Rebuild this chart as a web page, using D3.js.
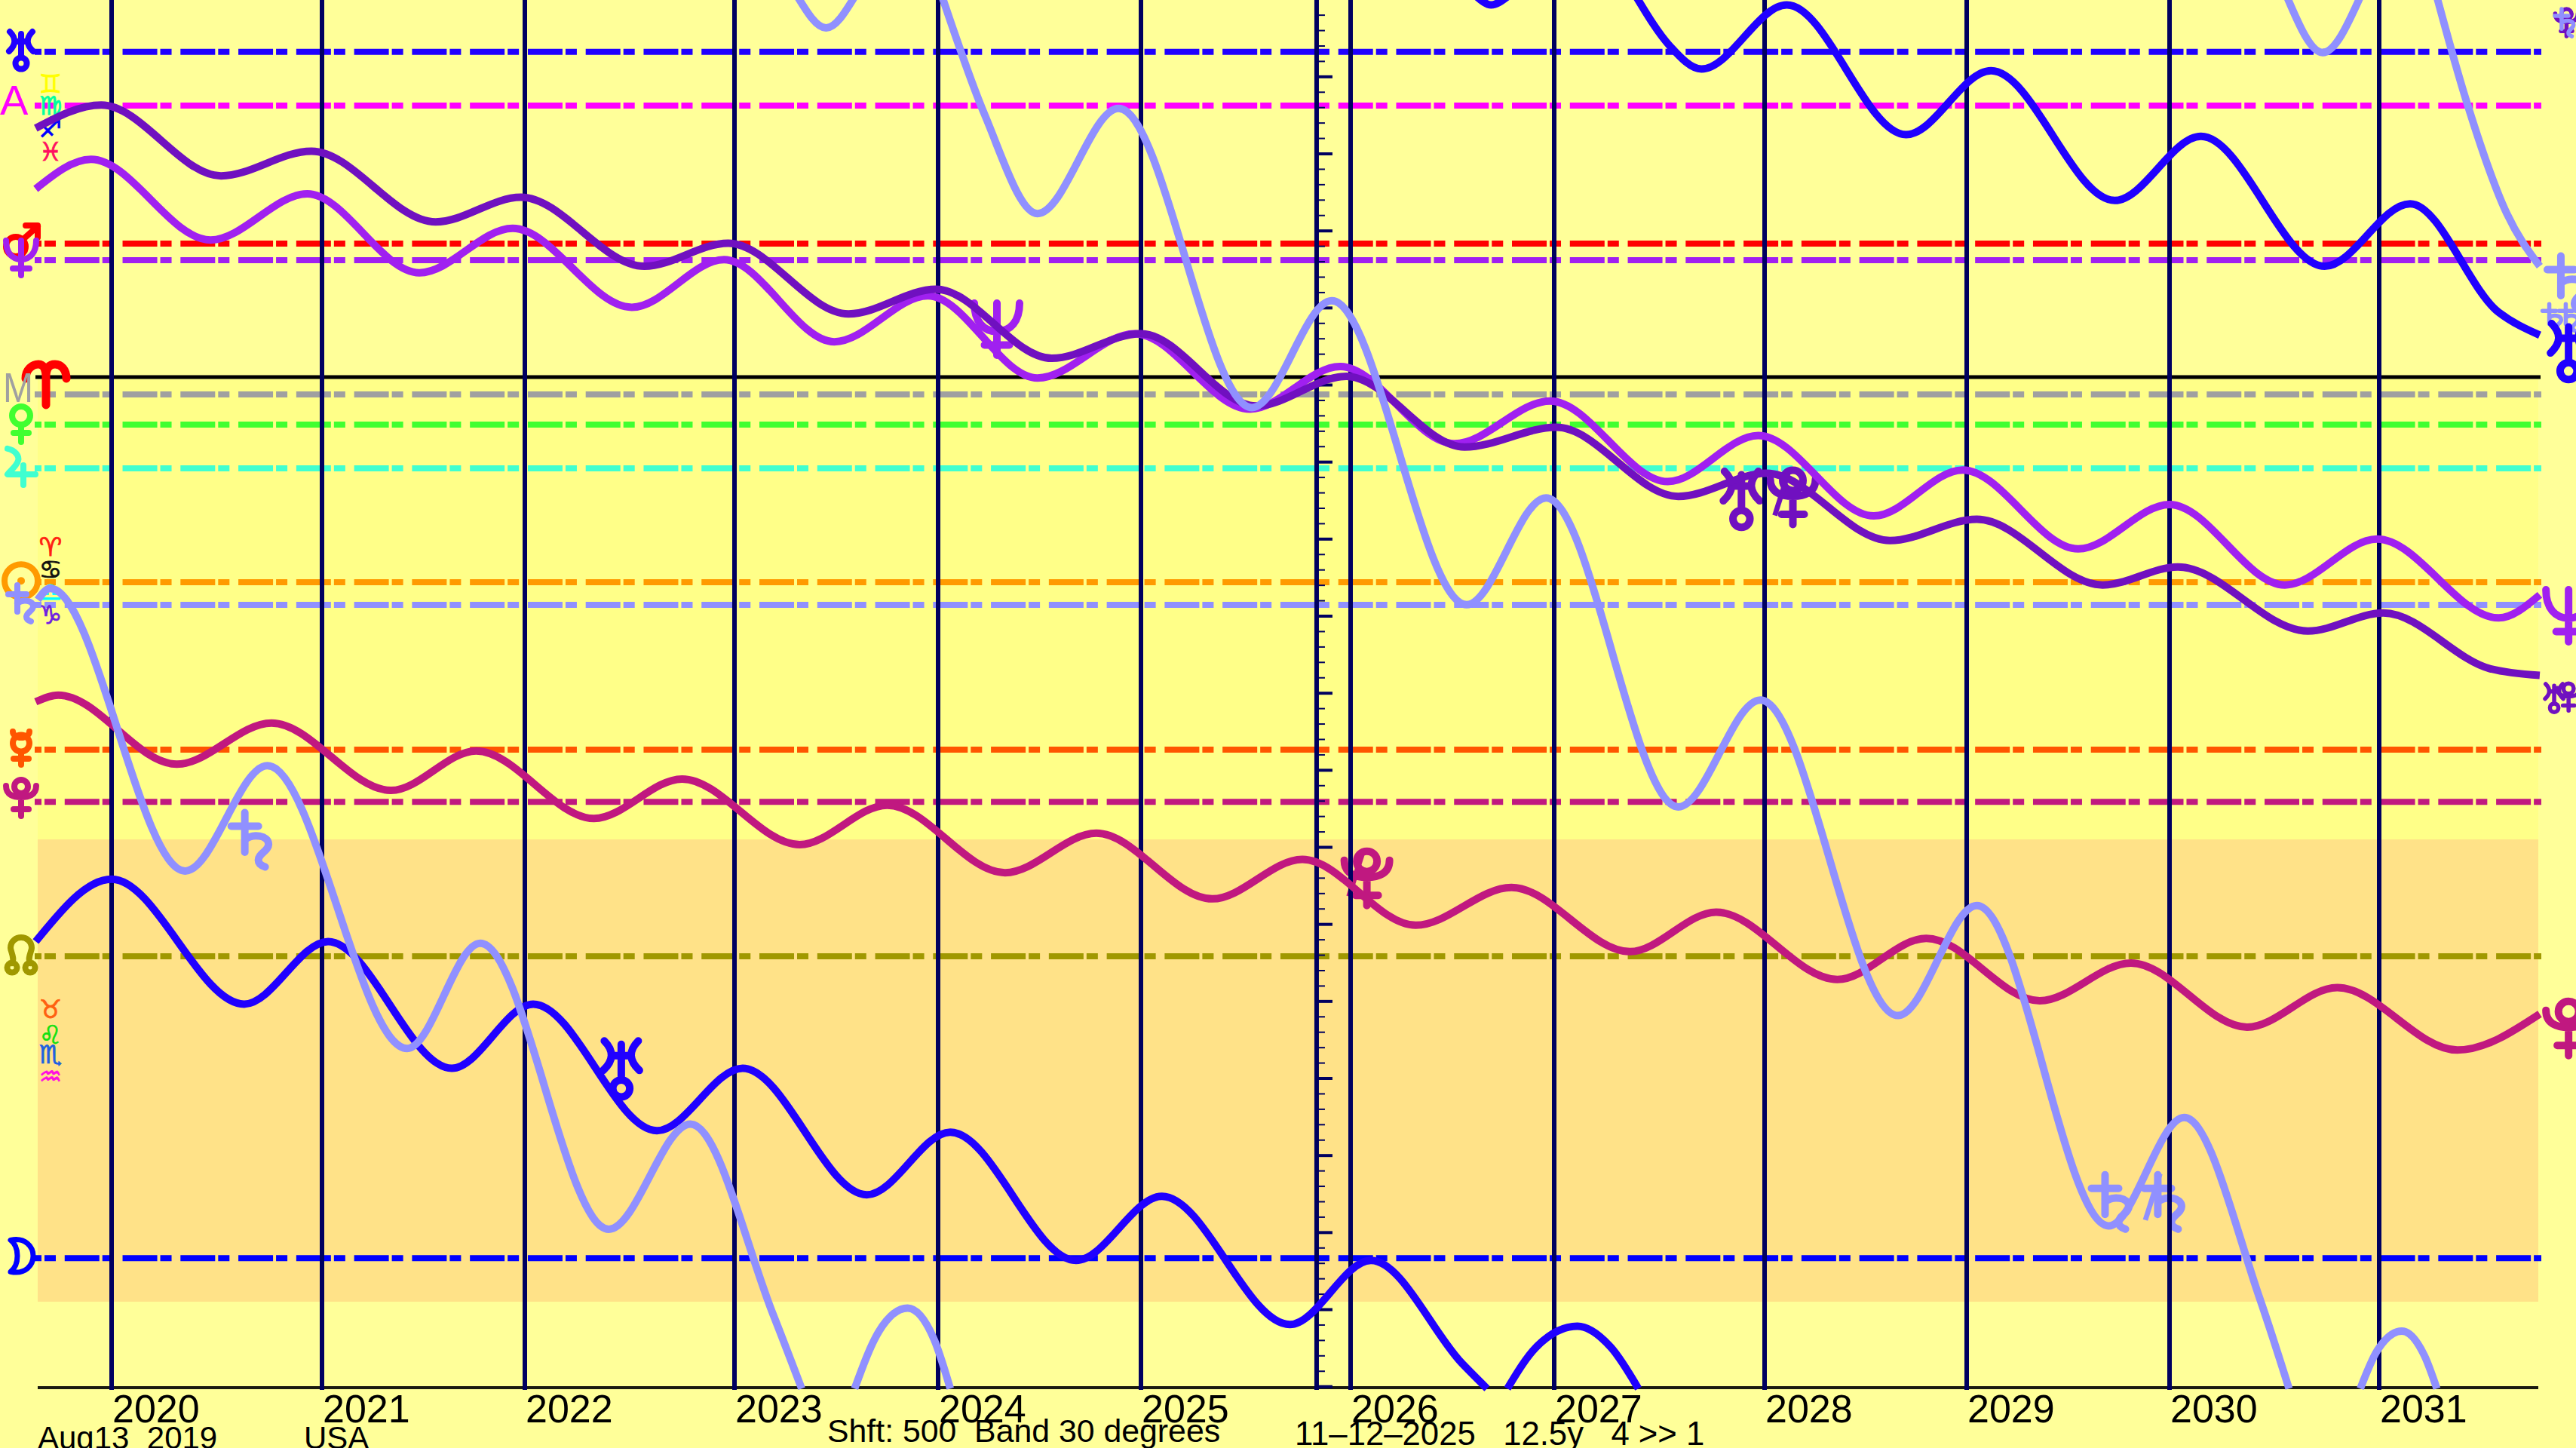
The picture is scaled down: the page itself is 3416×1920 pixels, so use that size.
<!DOCTYPE html>
<html><head><meta charset="utf-8">
<style>html,body{margin:0;padding:0;background:#FFFF99;overflow:hidden}svg{display:block}text{white-space:pre}</style>
<script src="https://cdnjs.cloudflare.com/ajax/libs/d3/7.8.5/d3.min.js"></script>
</head><body><svg id="c" width="3416" height="1920"></svg>
<script>
// years drawn on the time axis
const years=[2020,2021,2022,2023,2024,2025,2026,2027,2028,2029,2030,2031];
const nowYear=2025.838;
const footer=["Aug13  2019","USA","Shft: 500  Band 30 degrees","11–12–2025   12.5y   4 >> 1"];
// horizontal levels, degrees below 0 Aries
const levelNames=["Uranus","Asc","Mars","Neptune","MC","Venus","Jupiter","Sun","Saturn","Mercury","Pluto","Node","Moon"];
const levelDeg=[-21.10,-17.62,-8.66,-7.59,1.13,3.08,5.92,13.31,14.78,24.18,27.56,37.59,57.17];
const levelColor=["#2000FF","#FF00FF","#FF0000","#A020F0","#A0A0A0","#40FF30","#40FFD0","#FF9A00","#9090FF","#FF5500","#C01880","#A09800","#0000FF"];
// curves: turning points as [decimal year, degrees]; a curve that runs off the chart wraps to the other edge
const saturn=[
[[2019.64,14.45],[2019.70,13.71],[2020.35,32.05],[2020.74,25.22],[2021.42,43.57],[2021.78,36.74],[2022.40,55.30],[2022.79,48.47],[2023.19,60.84],[2023.33,65.64]],
[[2023.59,65.64],[2023.71,61.91],[2023.85,60.42],[2023.98,62.44],[2024.06,65.64]],
[[2023.31,-24.68],[2023.45,-22.66],[2023.59,-24.68]],
[[2024.02,-24.68],[2024.23,-17.01],[2024.49,-10.61],[2024.89,-17.43],[2025.53,1.98],[2025.91,-4.95],[2026.57,14.77],[2026.96,7.84],[2027.59,27.89],[2027.98,20.96],[2028.66,41.43],[2029.05,34.29],[2029.70,55.08],[2030.07,48.05],[2030.43,59.78],[2030.57,65.64]],
[[2030.91,65.64],[2030.99,63.19],[2031.11,61.91],[2031.22,63.51],[2031.28,65.64]],
[[2030.56,-24.68],[2030.73,-21.06],[2030.91,-24.68]],
[[2031.28,-24.68],[2031.42,-18.07],[2031.62,-10.61],[2031.78,-7.19]]];
const uranus=[
[[2019.63,36.63],[2020,32.58],[2020.63,40.69],[2021.03,36.63],[2021.64,44.85],[2022.04,40.69],[2022.63,48.90],[2023.04,44.85],[2023.65,53.06],[2024.06,49.00],[2024.68,57.32],[2025.10,53.16],[2025.71,61.48],[2026.10,57.32],[2026.55,64.04],[2026.67,65.64]],
[[2026.77,65.64],[2026.91,62.97],[2027.11,61.59],[2027.27,62.97],[2027.40,65.64]],
[[2026.62,-24.68],[2026.69,-24.15],[2026.77,-24.68]],
[[2027.39,-24.68],[2027.55,-21.48],[2027.70,-19.99],[2028.11,-24.15],[2028.70,-15.73],[2029.12,-19.88],[2029.73,-11.46],[2030.15,-15.62],[2030.74,-7.19],[2031.15,-11.25],[2031.58,-4.21],[2031.78,-2.72]]];
const pluto=[[[2019.63,21.07],[2019.74,20.64],[2020.31,25.12],[2020.76,22.45],[2021.34,26.82],[2021.76,24.26],[2022.33,28.64],[2022.75,26.08],[2023.32,30.34],[2023.75,27.78],[2024.33,32.16],[2024.78,29.60],[2025.34,33.86],[2025.77,31.30],[2026.32,35.57],[2026.79,33.12],[2027.36,37.28],[2027.77,34.72],[2028.36,39.09],[2028.80,36.42],[2029.36,40.47],[2029.81,38.02],[2030.37,42.18],[2030.80,39.62],[2031.38,43.67],[2031.78,41.33]]];
const neptune=[[[2019.63,-12.21],[2019.90,-14.13],[2020.47,-8.90],[2020.93,-11.89],[2021.48,-6.77],[2021.94,-9.65],[2022.51,-4.53],[2022.95,-7.62],[2023.49,-2.29],[2023.95,-5.27],[2024.49,0.06],[2024.97,-2.82],[2025.52,2.08],[2025.95,-0.69],[2026.51,4.32],[2026.98,1.55],[2027.54,6.78],[2027.97,3.79],[2028.54,9.01],[2028.98,6.03],[2029.55,11.15],[2030.00,8.27],[2030.55,13.49],[2030.99,10.51],[2031.58,15.63],[2031.78,14.13]]];
const uranusPluto=[[[2019.63,-16.15],[2019.95,-17.65],[2020.52,-13.06],[2020.95,-14.66],[2021.56,-10.07],[2021.98,-11.67],[2022.57,-7.19],[2022.97,-8.69],[2023.56,-4.10],[2023.99,-5.70],[2024.56,-1.22],[2025.00,-2.82],[2025.55,1.87],[2025.98,-0.05],[2026.56,4.54],[2027.01,3.26],[2027.59,7.74],[2028.01,6.24],[2028.62,10.61],[2029.05,9.23],[2029.67,13.49],[2030.04,12.32],[2030.66,16.48],[2031.02,15.31],[2031.54,18.93],[2031.78,19.36]]];
const curves=[[neptune,"#A020F0"],[uranusPluto,"#7010C0"],[pluto,"#C01880"],[uranus,"#2000FF"],[saturn,"#9090FF"]];
// zodiac signs down the left edge: sign, degrees, colour
const signGlyphs=[["♊",-19.04,"#FFFF00"],["♍",-17.62,"#00FFA0"],["♐",-16.15,"#0000FF"],["♓",-14.64,"#FF1060"],["♈",11.01,"#FF2010"],["♋",12.48,"#101010"],["♎",13.95,"#00FFFF"],["♑",15.42,"#7020E0"],["♉",41.02,"#FF6010"],["♌",42.68,"#10E010"],["♏",43.96,"#2060E0"],["♒",45.37,"#FF10E0"]];
// planet symbols: name, degrees, colour
const leftSymbols=[["uranus",-21.24,"#2000FF"],["mars",-8.81,"#FF0000"],["neptune",-7.78,"#A020F0"],["venus",2.99,"#40FF30"],["jupiter",5.82,"#40FFD0"],["sun",13.22,"#FF9A00"],["saturn",14.73,"#9090FF"],["mercury",24.08,"#FF5500"],["pluto",27.36,"#C01880"],["node",37.54,"#A09800"],["moon",57.03,"#0000FF"]];
// name, year, degrees, colour, retrograde
const plotSymbols=[["saturn",2020.66,30.10,"#9090FF",0],["uranus",2022.46,44.84,"#2000FF",0],["neptune",2024.29,-3.18,"#A020F0",0],["pluto",2026.08,32.6,"#C01880",1],["uranus",2027.89,7.88,"#7010C0",0],["pluto",2028.14,7.88,"#7010C0",1],["saturn",2029.71,53.6,"#9090FF",0],["saturn",2029.97,53.6,"#9090FF",1]];
// name, year, degrees, colour, relative size
const endSymbols=[["saturn",2031.91,-6.02,"#9090FF",1.5],["saturn",2031.84,-3.82,"#9090FF",.75],["saturn",2031.92,-3.82,"#9090FF",.75],["saturn",2032,-3.82,"#9090FF",.75],["uranus",2031.92,-1.71,"#2000FF",1.5],["neptune",2031.92,15.42,"#A020F0",1.5],["uranus",2031.85,20.80,"#7010C0",.75],["pluto",2031.92,20.80,"#7010C0",.75],["pluto",2031.92,42.34,"#C01880",1.5],["pluto",2031.91,-22.96,"#7010C0",.75],["saturn",2031.9,-22.96,"#9090FF",.75]];

// symbol outlines, drawn in a 52-unit box about the origin
const symbolPath={
 uranus:"M0,-21V10M-8,-11H8M-15,-24Q-2,-11 -16,2M15,-24Q2,-11 16,2M7.5,18A7.5,7.5 0 1 1 -7.5,18A7.5,7.5 0 1 1 7.5,18",
 mars:"M6,7A13,13 0 1 1 -20,7A13,13 0 1 1 6,7M3,-3L22,-20M6,-21H22V-5",
 neptune:"M-20,-22C-20,-6 -12,3 0,3C12,3 20,-6 20,-22M0,-22V24M-11,15H11",
 venus:"M12,-10A12,12 0 1 1 -12,-10A12,12 0 1 1 12,-10M0,2V25M-10,13H10",
 jupiter:"M-18,-24C-8,-22 -2,-14 -4,-8C-6,-1 -14,5 -18,10H19M3,-2V24",
 sun:"M22,0A22,22 0 1 1 -22,0A22,22 0 1 1 22,0M1,0A1,1 0 1 1 -1,0A1,1 0 1 1 1,0",
 saturn:"M-5,-25V10M-17,-13H7M-5,-1C2,-7 16,-5 16,3C16,9 7,11 7,17C7,20 10,22 13,23",
 mercury:"M11,-6.5A11,11 0 1 1 -11,-6.5A11,11 0 1 1 11,-6.5M-11,-22A11,8 0 0 0 11,-22M0,4.5V22M-10,14H10",
 pluto:"M9,-16A9,9 0 1 1 -9,-16A9,9 0 1 1 9,-16M-20,-17C-20,-5 -10,-2 0,-2C10,-2 20,-5 20,-17M0,-2V23M-10,14H10",
 node:"M-12,10C-8,4 -14,-6 -14,-10C-14,-20 -6,-24 0,-24C6,-24 14,-20 14,-10C14,-6 8,4 12,10M-5.5,16A6.5,6.5 0 1 1 -18.5,16A6.5,6.5 0 1 1 -5.5,16M18.5,16A6.5,6.5 0 1 1 5.5,16A6.5,6.5 0 1 1 18.5,16",
 moon:"M-15,-21C5,-25 15,-12 15,0C15,12 5,25 -15,21C-3,12 -3,-12 -15,-21Z",
 aries:"M-27,-6C-27,-18 -18,-25 -10,-25C-3,-25 0,-18 0,-8C0,-18 3,-25 12,-25C20,-25 27,-18 27,-6M0,-12V29",
 retro:"M-16,15L-3,-26"
};

const svg=d3.select("#c");
const x=d3.scaleLinear().domain([2019,...years,2032]).range([-124,148,427,696,974,1244,1513,1791,2061,2340,2608,2877,3155,3428]);
const y=d3.scaleLinear().domain([0,30]).range([500,1113]);
const L=50,R=3366,B=1840;
svg.append("rect").attr("x",0).attr("y",0).attr("width",3416).attr("height",1920).attr("fill","#FFFF99");
svg.append("rect").attr("x",L).attr("y",y(0)).attr("width",R-L).attr("height",y(30)-y(0)).attr("fill","#FFFF88");
svg.append("rect").attr("x",L).attr("y",y(30)).attr("width",R-L).attr("height",y(60)-y(30)).attr("fill","#FFE288");
// level lines
svg.append("g").selectAll("line").data(levelDeg).join("line")
 .attr("x1",46).attr("x2",3370).attr("y1",d=>y(d)).attr("y2",d=>y(d))
 .attr("stroke",(d,i)=>levelColor[i]).attr("stroke-width",8).attr("stroke-dasharray","46 4 15 11.77").attr("stroke-dashoffset",37);
// zero and base lines
svg.append("line").attr("x1",47).attr("x2",3369).attr("y1",y(0)).attr("y2",y(0)).attr("stroke","#000").attr("stroke-width",5);
svg.append("line").attr("x1",L).attr("x2",R).attr("y1",B).attr("y2",B).attr("stroke","#1a1a10").attr("stroke-width",4);

const F='"Liberation Sans",Arial,sans-serif', G='"DejaVu Sans",sans-serif';
// signs
svg.append("g").selectAll("text").data(signGlyphs).join("text").attr("x",67).attr("y",d=>y(d[1]))
 .attr("fill",d=>d[2]).attr("stroke",d=>d[2]).attr("stroke-width",.8).attr("font-size",34).attr("font-family",G)
 .attr("text-anchor","middle").attr("dominant-baseline","central").text(d=>d[0]);
// symbols
function symbol(sel,name,px,py,col,s,sw){
 sel.append("path").attr("d",symbolPath[name]).attr("transform",`translate(${px},${py}) scale(${s})`)
  .attr("fill","none").attr("stroke",col).attr("stroke-width",sw/s)
  .attr("stroke-linecap","round").attr("stroke-linejoin","round");
}
const sg=svg.append("g");
plotSymbols.forEach(d=>{const px=x(d[1]),py=y(d[2]);symbol(sg,d[0],px,py,d[3],1.5,10);
 if(d[4]) sg.append("path").attr("d",symbolPath.retro).attr("transform",`translate(${px},${py}) scale(1.5)`).attr("fill","none").attr("stroke",d[3]).attr("stroke-width",4.5);});
leftSymbols.forEach(d=>symbol(sg,d[0],d[0]==="moon"?29:28,y(d[1]),d[2],1,d[0]==="moon"?7:8));
symbol(sg,"aries",61,y(0.39),"#FF0000",1,11);
endSymbols.forEach(d=>symbol(sg,d[0],x(d[1]),y(d[2]),d[3],d[4],d[4]>1?10:5.5));

// year lines
svg.append("g").selectAll("line").data(years).join("line")
 .attr("x1",d=>x(d)).attr("x2",d=>x(d)).attr("y1",0).attr("y2",1843).attr("stroke","#000060").attr("stroke-width",6);
svg.append("line").attr("x1",x(nowYear)).attr("x2",x(nowYear)).attr("y1",0).attr("y2",1843).attr("stroke","#000060").attr("stroke-width",6);
// degree ticks on the now line
const tickDeg=d3.range(-24,66).map(n=>n+0.49);
const axis=d3.axisRight(y).tickValues(tickDeg).tickFormat("").tickSize(0);
const ag=svg.append("g").attr("transform",`translate(${x(nowYear)},0)`).call(axis);
ag.select(".domain").remove();
ag.selectAll(".tick line").attr("x2",(d,i)=>i%5===4?21:11).attr("stroke","#000060").attr("stroke-width",(d,i)=>i%5===4?4:2);
// curves
const line=d3.line().x(d=>x(d[0])).y(d=>y(d[1])).curve(d3.curveMonotoneX);
curves.forEach(([segs,col])=>{
 svg.append("g").selectAll("path").data(segs).join("path").attr("d",line).attr("fill","none").attr("stroke",col).attr("stroke-width",10);
});
// text
svg.append("g").selectAll("text").data(years).join("text").attr("x",d=>x(d)+1).attr("y",1886).attr("font-family",F).attr("font-size",52).text(d=>d);
const fp=[[50,1921,42],[403,1921,42],[1097,1912,42.8],[1717,1916,43.7]];
svg.append("g").selectAll("text").data(footer).join("text").attr("x",(d,i)=>fp[i][0]).attr("y",(d,i)=>fp[i][1]).attr("font-family",F).attr("font-size",(d,i)=>fp[i][2]).text(d=>d);
svg.append("text").attr("x",0).attr("y",152).attr("font-family",F).attr("font-size",56).attr("fill","#FF00FF").text("A");
svg.append("text").attr("x",4).attr("y",533).attr("font-family",F).attr("font-size",56).attr("textLength",40).attr("lengthAdjust","spacingAndGlyphs").attr("fill","#A0A0A0").text("M");
</script></body></html>
